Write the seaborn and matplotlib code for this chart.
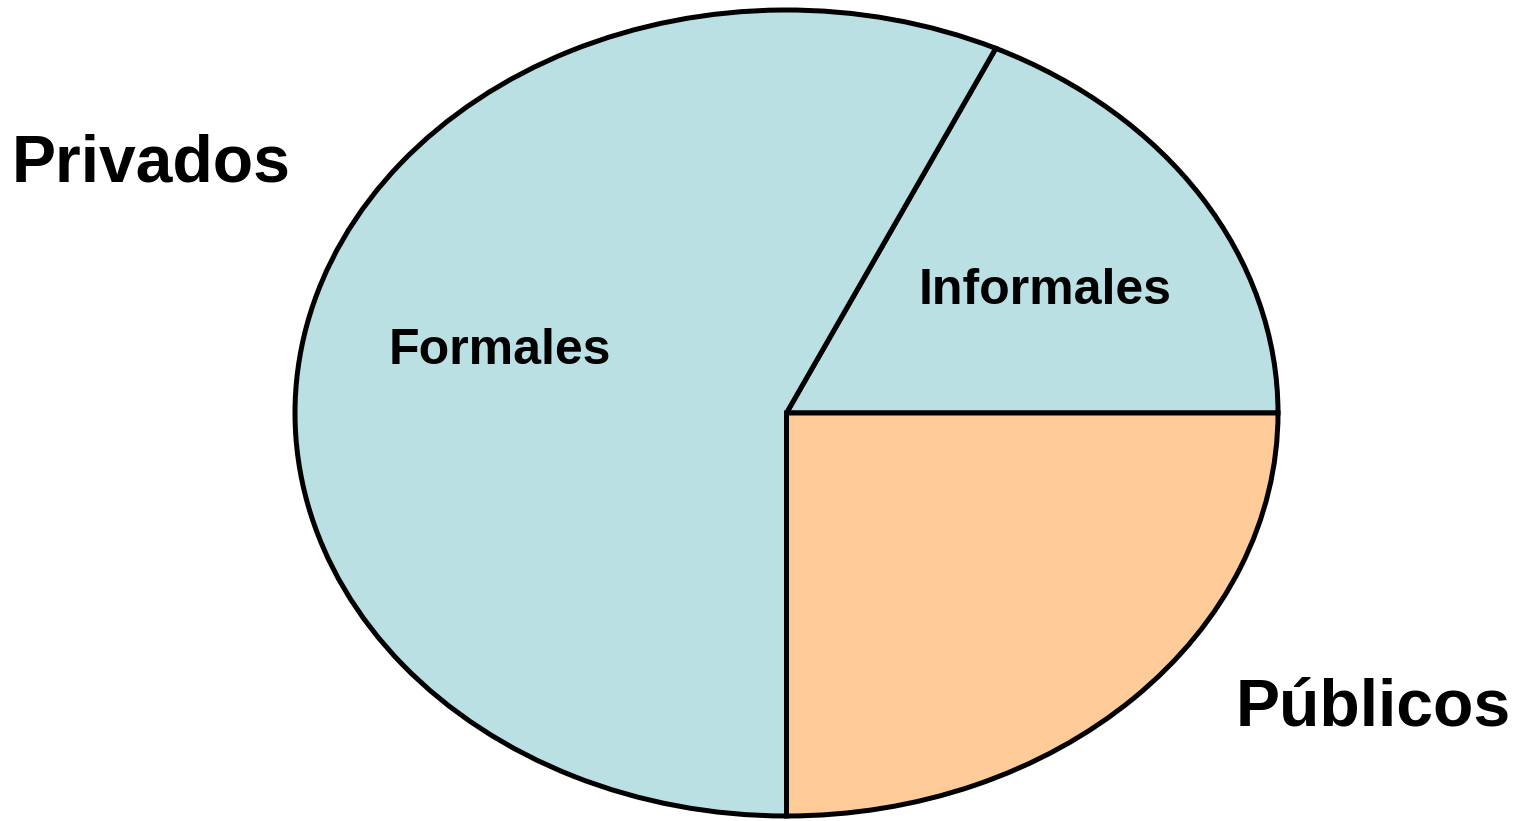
import matplotlib
matplotlib.use("Agg")
import matplotlib.pyplot as plt
import seaborn as sns

sns.set_theme(style="white")
plt.rcParams['font.family'] = ['Liberation Sans', 'DejaVu Sans']
plt.rcParams['text.color'] = 'black'

# datos del gráfico (porcentaje aproximado del área)
sectores = ['Informales', 'Formales', 'Públicos']
valores = [18, 57, 25]
colores = ['#BAE0E3', '#BAE0E3', '#FFCC99']

fig = plt.figure(figsize=(15.2, 8.21), dpi=100)
W, H = 1520, 821
# elipse: centro (786.5, 413), semiejes 491.5 x 403 px
ax = fig.add_axes([(786.5 - 491.5) / W, (821 - 413 - 403) / H, 983 / W, 806 / H])

ax.pie(valores, colors=colores, startangle=0, counterclock=True,
       wedgeprops=dict(edgecolor='black', linewidth=3.6))
ax.set_aspect('auto')
ax.set_xlim(-1, 1)
ax.set_ylim(-1, 1)
ax.axis('off')

# etiquetas dentro de la elipse
fig.text(500 / W, 1 - 351 / H, 'Formales', ha='center', va='center',
         fontsize=36, fontweight='bold', color='black')
fig.text(1045 / W, 1 - 291 / H, 'Informales', ha='center', va='center',
         fontsize=36, fontweight='bold', color='black')

# etiquetas de grupo
fig.text(151 / W, 1 - 164 / H, 'Privados', ha='center', va='center',
         fontsize=47.5, fontweight='bold', color='black')
fig.text(1373 / W, 1 - 708 / H, 'Públicos', ha='center', va='center',
         fontsize=47.5, fontweight='bold', color='black')

fig.savefig('out.png', dpi=100, facecolor='white')
